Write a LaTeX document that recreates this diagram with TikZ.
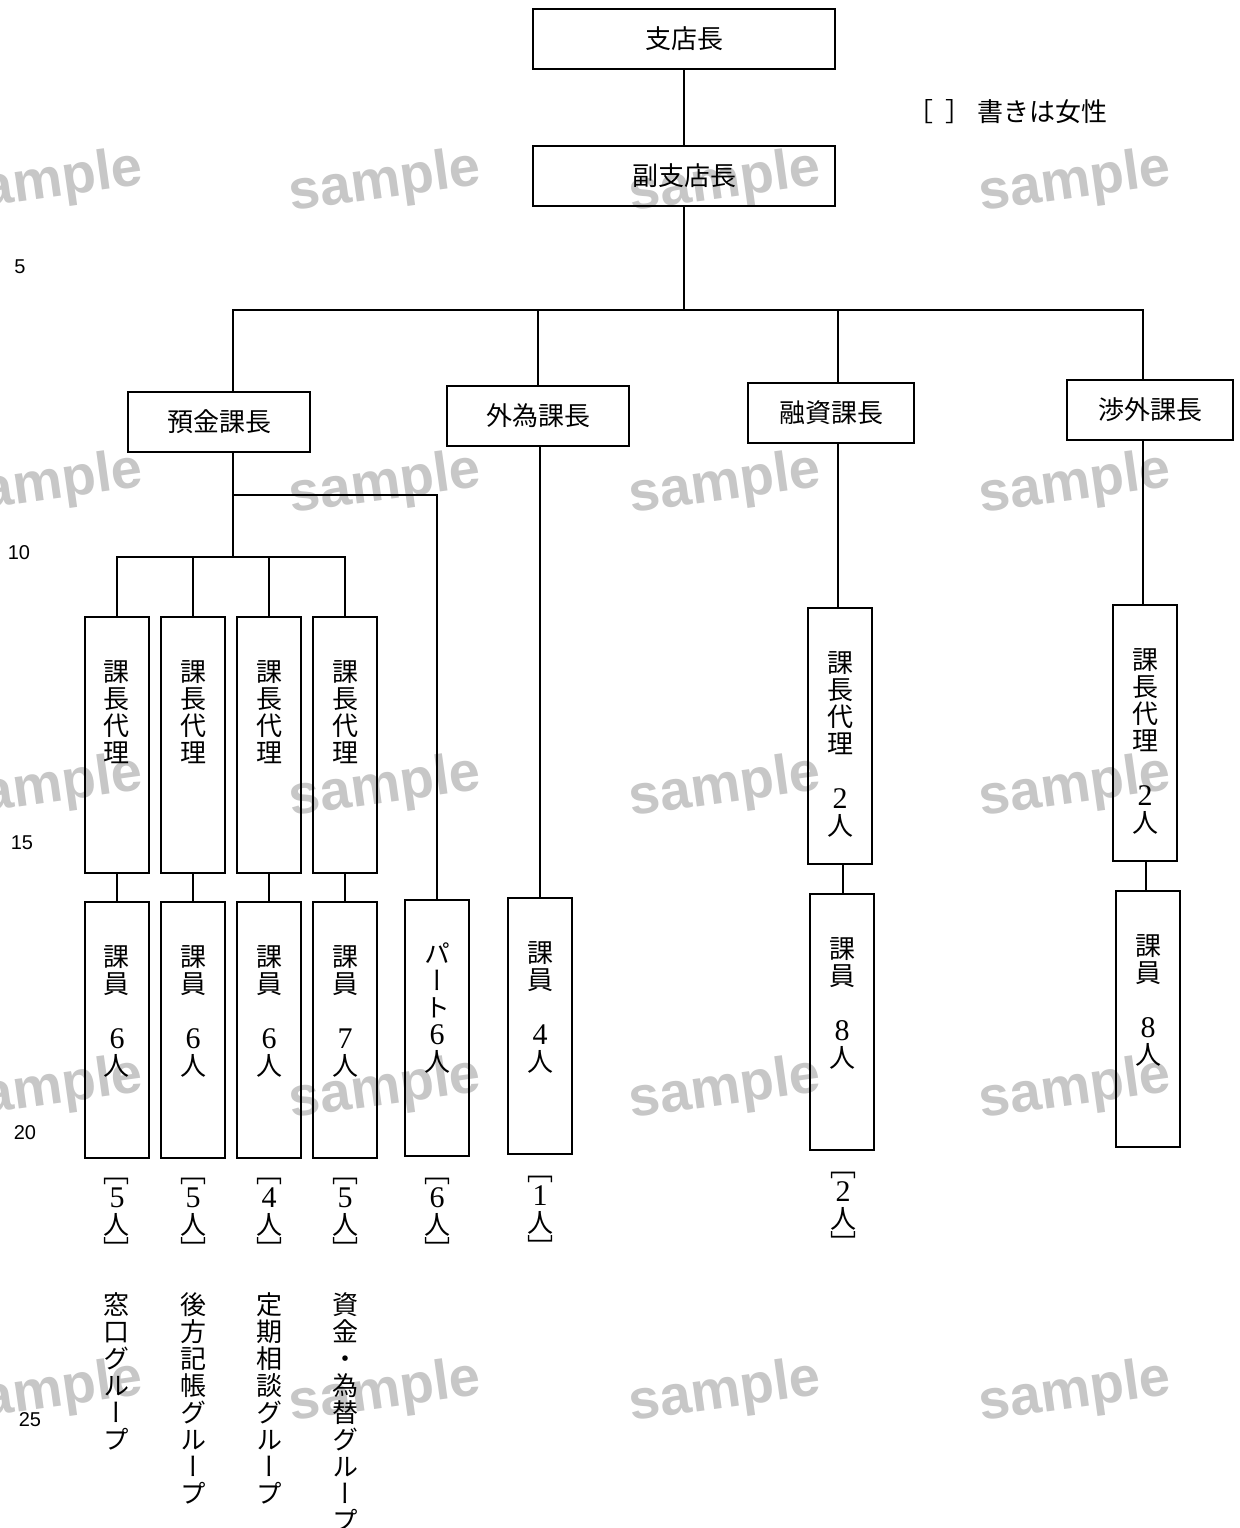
\documentclass[tikz,border=0pt]{standalone}
\usepackage{fontspec}
\setmainfont{Liberation Serif}
\setsansfont{Liberation Sans}
\newfontfamily\jp{Noto Sans CJK JP}
\newfontfamily\jpv[RawFeature=+vert]{Noto Sans CJK JP}
\usetikzlibrary{positioning}
% digits set in a serif, a little larger
\newcommand\nm[1]{{\rmfamily\fontsize{15}{13.5}\selectfont#1}}

\begin{document}
\begin{tikzpicture}[x=0.5pt, y=0.5pt,
    wire/.style={line width=1pt},
    hbox/.style={draw, line width=1.3pt, inner sep=0pt, minimum height=30pt,
      font=\jp\fontsize{13}{14}\selectfont},
    vbox/.style={draw, line width=1.3pt, inner sep=0pt, minimum width=32pt, minimum height=128pt},
    vtxt/.style={align=center, inner sep=0pt, font=\jpv\fontsize{13}{13.5}\selectfont},
    wmark/.style={text=black!22, font=\sffamily\bfseries\fontsize{28}{28}\selectfont, rotate=8},
    lineno/.style={font=\sffamily\fontsize{10}{10}\selectfont}]
  \useasboundingbox (0,0) rectangle (1239,-1528);
  % watermarks
  \foreach \wx in {47,385,725,1075}
    \foreach \wy in {183,485,788,1090,1393}
      \node[wmark] (wm-\wx-\wy) at (\wx,-\wy) {sample};
  % line numbers
  \foreach \ln/\lx/\ly in {5/20/267, 10/19/553, 15/22/843, 20/25/1133, 25/30/1420}
    \node[lineno] (ln\ln) at (\lx,-\ly) {\ln};

  % top
  \node[hbox, minimum width=151pt] (shiten) at (684,-39) {支店長};
  \node[hbox, minimum width=151pt] (fuku) at (684,-176) {副支店長};
  \node[font=\jp\fontsize{13}{14}\selectfont, inner sep=0pt, anchor=east] (legend) at (1108,-112)
    {［\hspace{6pt}］\hspace{3pt}書きは女性};

  % section chiefs
  \node[hbox, minimum width=91pt] (yokin) at (219,-422) {預金課長};
  \node[hbox, minimum width=91pt] (gaitame) at (538,-416) {外為課長};
  \node[hbox, minimum width=83pt] (yushi) at (831,-413) {融資課長};
  \node[hbox, minimum width=83pt] (shogai) at (1150,-410) {渉外課長};

  \coordinate (bus) at (684,-310);
  \coordinate (fork) at (233,-495);
  \coordinate (sub) at (233,-557);
  \draw[wire] (shiten) -- (fuku);
  \draw[wire] (fuku.south) -- (fuku.south |- bus);
  \draw[wire] (yokin.north -| fork) |- (bus) -| (shogai.north -| 1143,0);
  \draw[wire] (gaitame.north) -- (gaitame.north |- bus);
  \draw[wire] (yushi.north -| 838,0) -- (bus -| 838,0);

  % yokin: four groups
  \foreach \i/\x/\cnt/\fem/\grp in {
      1/117/6/5/{窓\\口\\グ\\ル\\ー\\プ},
      2/193/6/5/{後\\方\\記\\帳\\グ\\ル\\ー\\プ},
      3/269/6/4/{定\\期\\相\\談\\グ\\ル\\ー\\プ},
      4/345/7/5/{資\\金\\・\\為\\替\\グ\\ル\\ー\\プ}} {
    \node[vbox] (dai\i) at (\x,-745) {};
    \node[vtxt, below=22pt of dai\i.north] (daitxt\i) {課\\長\\代\\理};
    \node[vbox] (kain\i) at (\x,-1030) {};
    \node[vtxt, below=22pt of kain\i.north] (kaintxt\i) {課\\員\\[14pt]\nm{\cnt}\\人};
    \node[vtxt, anchor=north] (fem\i) at (\x,-1178) {［\\[-1pt]\nm{\fem}\\人\\[-1pt]］};
    \node[vtxt, anchor=north] (grp\i) at (\x,-1292) {\grp};
    \draw[wire] (dai\i) -- (kain\i);
  }
  \draw[wire] (yokin.south -| fork) -- (sub);
  \draw[wire] (dai1.north) |- (sub) -| (dai4.north);
  \draw[wire] (dai2.north) -- (dai2.north |- sub);
  \draw[wire] (dai3.north) -- (dai3.north |- sub);

  % part-timers
  \node[vbox] (part) at (437,-1028) {};
  \node[vtxt, below=22pt of part.north] (parttxt) {パ\\ー\\ト\\\nm{6}\\人};
  \node[vtxt, anchor=north] (fem5) at (437,-1178) {［\\[-1pt]\nm{6}\\人\\[-1pt]］};
  \draw[wire] (fork) -| (part.north);

  % gaitame
  \node[vbox] (gkain) at (540,-1026) {};
  \node[vtxt, below=22pt of gkain.north] (gkaintxt) {課\\員\\[14pt]\nm{4}\\人};
  \node[vtxt, anchor=north] (fem6) at (540,-1176) {［\\[-1pt]\nm{1}\\人\\[-1pt]］};
  \draw[wire] (gaitame.south -| gkain) -- (gkain);

  % yushi
  \node[vbox] (ydai) at (840,-736) {};
  \node[vtxt, below=22pt of ydai.north] (ydaitxt) {課\\長\\代\\理\\[14pt]\nm{2}\\人};
  \node[vbox] (ykain) at (842,-1022) {};
  \node[vtxt, below=22pt of ykain.north] (ykaintxt) {課\\員\\[14pt]\nm{8}\\人};
  \node[vtxt, anchor=north] (fem7) at (843,-1172) {［\\[-1pt]\nm{2}\\人\\[-1pt]］};
  \draw[wire] (yushi.south -| 838,0) -- (ydai.north -| 838,0);
  \draw[wire] (ydai.south -| 843,0) -- (ykain.north -| 843,0);

  % shogai
  \node[vbox] (sdai) at (1145,-733) {};
  \node[vtxt, below=22pt of sdai.north] (sdaitxt) {課\\長\\代\\理\\[14pt]\nm{2}\\人};
  \node[vbox] (skain) at (1148,-1019) {};
  \node[vtxt, below=22pt of skain.north] (skaintxt) {課\\員\\[14pt]\nm{8}\\人};
  \draw[wire] (shogai.south -| 1143,0) -- (sdai.north -| 1143,0);
  \draw[wire] (sdai.south -| 1146,0) -- (skain.north -| 1146,0);
\end{tikzpicture}
\end{document}
